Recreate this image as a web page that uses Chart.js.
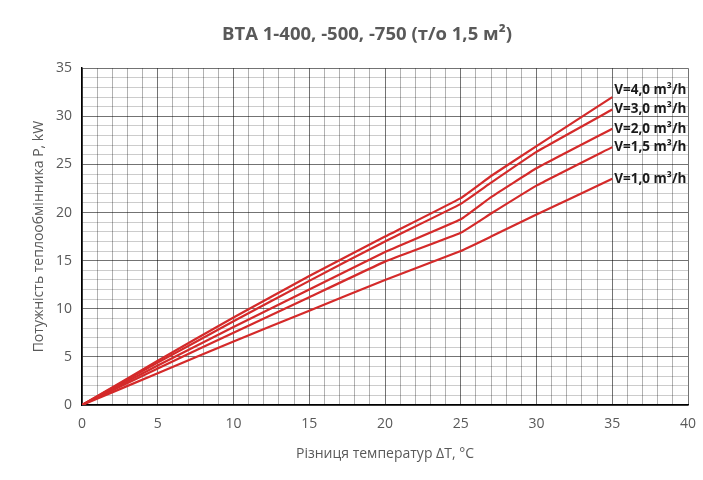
<!DOCTYPE html>
<html>
<head>
<meta charset="utf-8">
<script src="https://cdn.jsdelivr.net/npm/chart.js@4/dist/chart.umd.min.js"></script>
<style>
    html, body { margin: 0; padding: 0; background: #fff; }
    #wrap { width: 703px; height: 480px; position: relative; }
</style>
</head>
<body>
<div id="wrap"><canvas id="chart" width="703" height="480"></canvas></div>
<script>
    var deltaT = [0, 5, 10, 15, 20, 25, 27, 30, 35];
    var seriesNames = ["V=4,0 m³/h", "V=3,0 m³/h", "V=2,0 m³/h", "V=1,5 m³/h", "V=1,0 m³/h"];
    var v40 = [0, 4.6, 9.1, 13.4, 17.5, 21.5, 23.8, 26.9, 32.0];
    var v30 = [0, 4.4, 8.7, 12.9, 17.0, 20.9, 23.1, 26.3, 30.7];
    var v20 = [0, 4.1, 8.1, 12.0, 15.9, 19.3, 21.6, 24.6, 28.7];
    var v15 = [0, 3.8, 7.5, 11.2, 14.9, 17.9, 19.9, 22.8, 26.8];
    var v10 = [0, 3.3, 6.6, 9.8, 13.0, 16.0, 17.5, 19.8, 23.5];

    var lineColor = '#d42a2a';
    var textGray = '#595959';
    var font = "'Open Sans', 'DejaVu Sans', sans-serif";

    function makeSet(name, values) {
        return {
            label: name,
            data: deltaT.map(function (t, i) { return { x: t, y: values[i] }; }),
            borderColor: lineColor,
            backgroundColor: lineColor,
            borderWidth: 2.2,
            pointRadius: 0,
            tension: 0.1,
            fill: false
        };
    }

    // label text next to the end of every line
    var labelOffsets = [-7, 0, 0, 0, 0];
    var endLabels = {
        id: 'endLabels',
        afterDatasetsDraw: function (chart) {
            var ctx = chart.ctx;
            ctx.save();
            ctx.font = "bold 13.5px " + font;
            ctx.fillStyle = '#1a1a1a';
            ctx.textAlign = 'left';
            ctx.textBaseline = 'middle';
            chart.data.datasets.forEach(function (ds, i) {
                var meta = chart.getDatasetMeta(i);
                var last = meta.data[meta.data.length - 1];
                ctx.fillText(ds.label, last.x + 2, last.y + labelOffsets[i]);
            });
            ctx.restore();
        }
    };

    function gridColor(minorCol) {
        return function (c) {
            if (c.tick && c.tick.value % 5 === 0) return 'rgba(0,0,0,0.55)';
            return minorCol;
        };
    }

    new Chart(document.getElementById('chart'), {
        type: 'line',
        data: {
            datasets: [
                makeSet(seriesNames[0], v40),
                makeSet(seriesNames[1], v30),
                makeSet(seriesNames[2], v20),
                makeSet(seriesNames[3], v15),
                makeSet(seriesNames[4], v10)
            ]
        },
        options: {
            responsive: false,
            animation: false,
            layout: { padding: { left: 31, right: 0, top: 0, bottom: 0 } },
            plugins: {
                legend: { display: false },
                tooltip: { enabled: false },
                title: {
                    display: true,
                    text: 'BTA 1-400, -500, -750 (т/о 1,5 м²)',
                    color: textGray,
                    font: { family: font, size: 18.5, weight: 'bold' },
                    padding: { top: 24, bottom: 22 }
                }
            },
            scales: {
                x: {
                    type: 'linear',
                    min: 0,
                    max: 40,
                    grid: { color: gridColor('rgba(0,0,0,0.3)'), lineWidth: 1, drawTicks: false },
                    border: { color: '#000', width: 1.5 },
                    ticks: {
                        stepSize: 1,
                        autoSkip: false,
                        maxRotation: 0,
                        color: textGray,
                        padding: 11,
                        font: { family: font, size: 14 },
                        callback: function (v) { return v % 5 === 0 ? v : ''; }
                    },
                    title: {
                        display: true,
                        text: 'Різниця температур ΔT, °C',
                        color: textGray,
                        font: { family: font, size: 14 },
                        padding: { top: 8, bottom: 18 }
                    },
                    afterFit: function (s) { s.height = 75; s.paddingRight = 15; }
                },
                y: {
                    type: 'linear',
                    min: 0,
                    max: 35,
                    grid: { color: gridColor('rgba(0,0,0,0.2)'), lineWidth: 1, drawTicks: false },
                    border: { color: '#000', width: 1.5 },
                    ticks: {
                        stepSize: 1,
                        autoSkip: false,
                        color: textGray,
                        padding: 10,
                        font: { family: font, size: 14 },
                        callback: function (v) { return v % 5 === 0 ? v : ''; }
                    },
                    title: {
                        display: true,
                        text: 'Потужність теплообмінника P, kW',
                        color: textGray,
                        font: { family: font, size: 14 },
                        padding: { top: 0, bottom: 4 }
                    },
                    afterFit: function (s) { s.width = 51; }
                }
            }
        },
        plugins: [endLabels]
    });
</script>
</body>
</html>
